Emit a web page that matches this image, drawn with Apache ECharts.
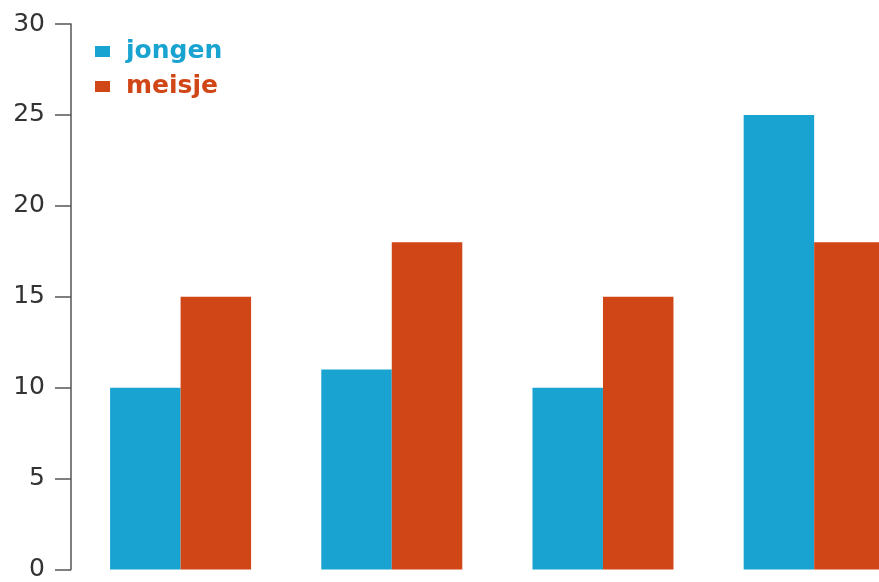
<!DOCTYPE html>
<html><head><meta charset="utf-8">
<script src="https://cdn.jsdelivr.net/npm/echarts@6/dist/echarts.min.js"></script>
<style>html,body{margin:0;padding:0;background:#fff}#c{width:879px;height:582px}</style>
</head><body><div id="c"></div>
<script>
const categories = [0, 1, 2, 3];
const jongen = [10, 11, 10, 25];
const meisje = [15, 18, 15, 18];
const yTicks = [0, 5, 10, 15, 20, 25, 30];
const blue = '#19a3d1', red = '#d14617';
const pair = (vals) => vals.map((v, i) => [categories[i], v]);
const chart = echarts.init(document.getElementById('c'));
chart.setOption({
  animation: false,
  grid: {left: 75, right: 0, top: 24, bottom: 9, containLabel: false},
  legend: {
    left: 95, top: 39, padding: 0, orient: 'vertical', itemWidth: 15, itemHeight: 11, itemGap: 10,
    icon: 'rect',
    textStyle: {fontFamily: 'DejaVu Sans', fontSize: 25, fontWeight: 'bold', padding: [0, 0, 0, 11]},
    data: [
      {name: 'jongen', textStyle: {color: blue}},
      {name: 'meisje', textStyle: {color: red}}
    ]
  },
  xAxis: {type: 'value', min: -0.5, max: 3.307, show: false, splitLine: {show: false}},
  yAxis: {
    type: 'value', min: yTicks[0], max: yTicks[yTicks.length - 1], interval: 5, offset: 4,
    position: 'left',
    splitLine: {show: false},
    axisLine: {show: true, onZero: false, lineStyle: {color: '#555', width: 1.5}},
    axisTick: {show: true, length: 16, lineStyle: {color: '#555', width: 1.5}},
    axisLabel: {margin: 26, color: '#333', fontSize: 25, fontFamily: 'DejaVu Sans'}
  },
  series: [
    {name: 'jongen', type: 'bar', data: pair(jongen), barWidth: 70.5, barGap: '0%', itemStyle: {color: blue}},
    {name: 'meisje', type: 'bar', data: pair(meisje), barWidth: 70.5, barGap: '0%', itemStyle: {color: red}}
  ]
});
</script></body></html>
